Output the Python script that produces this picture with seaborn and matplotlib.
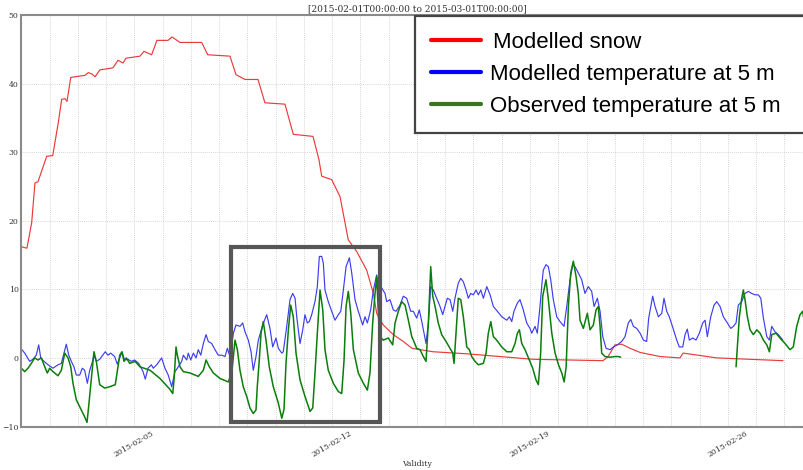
import numpy as np
import pandas as pd
import matplotlib
matplotlib.use("Agg")
import matplotlib.pyplot as plt
import matplotlib.dates as mdates
from matplotlib.patches import Rectangle
from matplotlib.lines import Line2D
import seaborn as sns

START = pd.Timestamp("2015-02-01")
END = pd.Timestamp("2015-03-01")

# Modelled snow depth (hours since START, value)
snow_hours = [0, 4.8, 8.8, 11.6, 14.2, 21.6, 26.7, 31.4,
              34.3, 37.1, 38.8, 42.0, 54.1, 56.9, 60.0, 62.6,
              66.8, 77.9, 82.1, 86.4, 88.9, 100.8, 104.2, 110.7,
              115.2, 124.6, 128.0, 134.8, 153.2, 158.3, 177.2, 182.3,
              190.0, 201.0, 206.9, 223.9, 231.0, 247.7, 252.8, 255.1,
              263.6, 270.7, 277.7, 284.9, 293.3, 299.0, 301.8, 307.4,
              315.9, 324.4, 331.8, 349.6, 378.3, 434.6, 494.0, 498.3,
              504.2, 509.9, 517.0, 525.5, 542.5, 559.4, 562.0, 570.4,
              590.6, 646.9]
snow_depth = [16.2, 16.0, 19.7, 25.5, 25.7, 29.4, 29.5, 34.3,
              37.7, 37.8, 37.4, 40.9, 41.2, 41.6, 41.4, 41.0,
              42.0, 42.3, 43.4, 43.0, 43.7, 44.0, 44.7, 44.2,
              46.3, 46.3, 46.8, 46.0, 46.0, 44.2, 44.0, 41.3,
              40.6, 40.6, 37.2, 37.0, 32.6, 32.3, 28.9, 26.5,
              26.0, 23.5, 17.2, 15.5, 12.8, 9.4, 6.5, 4.8,
              3.4, 2.4, 1.4, 0.9, 0.6, -0.2, -0.4, 0.2,
              1.9, 2.0, 1.4, 0.8, 0.2, 0.0, 0.7, 0.5,
              0.0, -0.4]

# Modelled temperature at 5 m
model_hours = [0, 2.9, 7.1, 9.9, 12.7, 14.8, 16.5, 19.3,
               22.7, 26.9, 31.2, 34.0, 36.3, 38.2, 40.3, 42.5,
               44.7, 46.7, 49.6, 51.8, 53.8, 56.1, 58.1, 60.0,
               61.7, 63.7, 66.6, 71.3, 73.6, 75.9, 79.3, 81.5,
               83.6, 85.5, 87.8, 90.6, 93.4, 96.3, 99.7, 103.4,
               105.3, 107.6, 110.4, 112.1, 115.0, 119.2, 122.0, 124.8,
               127.7, 130.5, 133.3, 136.2, 137.6, 140.5, 141.8, 143.9,
               146.1, 148.4, 150.3, 152.4, 154.6, 156.9, 158.8, 161.7,
               164.5, 167.3, 170.2, 173.0, 175.0, 177.2, 180.1, 182.3,
               185.7, 188.0, 190.0, 192.8, 195.1, 197.0, 199.3, 201.3,
               204.2, 206.1, 208.4, 211.2, 213.5, 216.3, 218.3, 221.2,
               222.5, 225.4, 228.2, 230.5, 232.5, 233.9, 236.7, 239.0,
               240.9, 242.9, 244.6, 246.6, 249.4, 251.4, 253.1, 255.1,
               256.5, 257.9, 260.7, 263.6, 266.4, 269.2, 271.3, 273.5,
               275.8, 278.6, 280.6, 283.4, 286.2, 289.9, 291.9, 293.9,
               296.7, 299.0, 301.8, 303.8, 306.1, 308.9, 310.3, 313.1,
               315.9, 318.2, 321.6, 324.4, 327.3, 330.7, 332.9, 335.8,
               338.0, 340.1, 342.0, 343.7, 345.7, 347.7, 349.9, 352.8,
               355.6, 357.9, 359.8, 361.8, 364.1, 366.4, 368.3, 371.1,
               373.2, 375.4, 377.7, 379.6, 381.7, 383.9, 386.2, 388.1,
               390.2, 392.4, 395.3, 398.1, 400.9, 404.3, 408.0, 412.3,
               414.5, 416.5, 418.4, 421.3, 423.5, 426.3, 429.2, 432.0,
               433.5, 436.3, 438.2, 440.5, 442.2, 443.3, 445.6, 447.6,
               449.6, 451.8, 454.7, 457.5, 460.9, 463.2, 466.0, 468.3,
               470.2, 473.0, 475.9, 478.7, 481.5, 484.4, 486.4, 489.2,
               491.5, 493.8, 496.6, 500.0, 502.8, 506.2, 509.9, 512.7,
               515.5, 517.6, 519.8, 522.7, 525.5, 528.3, 531.1, 532.8,
               536.2, 538.2, 541.0, 543.9, 545.8, 548.1, 550.3, 552.6,
               556.6, 558.8, 561.7, 563.7, 565.6, 567.3, 570.2, 573.0,
               575.8, 578.7, 580.7, 582.6, 585.5, 588.3, 590.6, 593.4,
               596.2, 599.6, 602.5, 604.7, 607.0, 608.9, 611.8, 614.6,
               617.4, 620.3, 623.1, 625.9, 628.0, 630.2, 633.1, 635.3,
               637.3, 640.1, 642.9, 646.7]
model_temp = [1.3, 0.7, -0.5, -0.2, 0.4, 1.9, 0.0, -0.5,
              -1.0, -1.5, -1.0, -0.8, 0.7, 2.0, 0.4, -0.5,
              -1.3, -2.5, -2.5, -1.5, -1.8, -3.7, -1.8, -0.8,
              0.4, -0.5, -0.2, 0.9, 0.4, 0.7, 0.2, -0.9,
              0.0, 0.8, -0.3, -0.2, -0.5, -0.3, -0.8, -2.0,
              -3.1, -1.5, -1.0, -1.5, -1.0, 0.0, -1.5, -2.5,
              -4.2, -2.0, -1.3, -0.5, 0.4, -0.3, 0.7, -0.3,
              0.7, 0.0, 1.2, 0.4, 2.1, 3.4, 2.4, 2.1,
              1.2, 0.4, 0.4, 0.2, 1.4, 0.2, 3.6, 4.8,
              4.6, 5.1, 3.8, 2.6, 0.9, -1.8, 0.2, 2.6,
              4.3, 5.3, 6.3, 4.3, 1.6, 2.9, 1.4, 0.7,
              0.9, 4.6, 8.5, 9.4, 8.7, 6.0, 2.1, 4.1,
              6.3, 5.1, 5.3, 6.3, 8.2, 10.4, 14.8, 14.8,
              13.8, 9.9, 8.2, 6.8, 5.5, 6.3, 6.8, 9.9,
              13.3, 14.6, 12.4, 8.5, 6.8, 4.8, 6.0, 5.1,
              7.0, 9.9, 12.1, 9.4, 10.2, 9.4, 8.2, 8.5,
              7.0, 6.8, 7.7, 9.0, 8.7, 6.8, 6.8, 5.8,
              7.0, 5.3, 3.6, 2.1, 5.1, 10.4, 9.9, 8.7,
              7.5, 6.3, 7.5, 8.7, 8.5, 6.8, 8.7, 10.9,
              11.6, 11.1, 9.9, 8.7, 9.4, 9.2, 9.9, 9.2,
              9.9, 8.7, 10.4, 9.2, 7.5, 6.8, 6.0, 5.5,
              6.0, 5.3, 6.8, 8.0, 8.5, 7.0, 5.1, 4.3,
              3.6, 4.6, 3.6, 7.5, 10.9, 12.8, 13.6, 13.3,
              11.4, 8.5, 6.0, 5.3, 4.6, 7.5, 11.4, 13.6,
              13.3, 12.4, 11.4, 9.4, 10.4, 9.7, 7.5, 8.7,
              6.8, 3.1, 1.4, 1.2, 1.6, 1.9, 2.4, 3.1,
              5.1, 5.6, 4.6, 4.3, 3.6, 2.6, 2.4, 5.8,
              9.0, 7.5, 6.0, 6.5, 8.7, 6.8, 6.0, 4.8,
              2.6, 1.6, 1.6, 3.4, 4.2, 2.6, 2.9, 2.6,
              3.6, 5.1, 5.5, 3.1, 6.0, 7.7, 8.2, 7.5,
              6.0, 5.1, 4.3, 4.6, 5.1, 7.7, 8.2, 9.4,
              9.7, 9.4, 9.2, 9.2, 8.7, 5.8, 3.1, 2.6,
              4.6, 3.8, 3.4, 2.6]

# Observed temperature at 5 m (NaN marks a gap in the record)
obs_hours = [0, 2.9, 5.7, 8.5, 11.4, 14.2, 17.0, 19.9,
             22.1, 24.1, 26.9, 31.2, 34.0, 36.9, 39.7, 42.0,
             43.9, 46.7, 51.0, 53.8, 55.8, 57.2, 59.4, 61.7,
             63.7, 66.6, 70.8, 75.1, 79.8, 82.1, 83.6, 85.5,
             87.2, 89.2, 92.1, 96.6, 100.8, 109.3, 117.8, 122.0,
             126.3, 128.6, 129.7, 131.4, 132.5, 134.8, 137.6, 143.3,
             150.3, 154.6, 156.9, 159.7, 163.1, 168.8, 175.8, 178.7,
             181.5, 183.5, 185.7, 188.5, 191.4, 194.2, 197.0, 199.3,
             200.4, 202.1, 203.6, 205.5, 207.8, 210.6, 214.0, 218.3,
             221.2, 223.1, 224.8, 226.8, 228.8, 231.0, 233.3, 236.7,
             240.9, 245.2, 247.5, 249.4, 251.4, 253.7, 256.0, 257.9,
             260.7, 265.0, 269.2, 272.1, 274.1, 275.8, 277.7, 279.8,
             282.0, 286.2, 290.5, 293.9, 296.1, 298.4, 300.4, 301.8,
             303.5, 304.6, 307.4, 311.7, 315.4, 317.4, 320.2, 323.1,
             325.9, 328.7, 331.6, 332.9, 335.8, 338.6, 341.4, 343.7,
             345.7, 347.7, 349.4, 351.4, 354.1, 357.0, 360.7, 364.1,
             366.4, 367.5, 369.2, 371.1, 373.2, 375.4, 378.3, 380.5,
             382.5, 385.3, 388.1, 392.4, 394.7, 396.6, 398.7, 400.9,
             403.7, 408.0, 412.3, 416.5, 419.3, 421.3, 423.0, 425.0,
             427.8, 431.4, 434.3, 437.1, 439.1, 441.0, 442.8, 445.6,
             447.6, 450.5, 453.3, 456.2, 459.0, 461.0, 462.7, 464.6,
             466.6, 468.8, 471.1, 473.0, 474.5, 477.3, 480.7, 483.0,
             485.8, 488.1, 490.0, 491.5, 492.9, 495.7, 500.0, 504.2,
             507.0, 509.0, 558.0,
             607.0, 608.1, 609.8, 611.8, 613.2, 614.6, 616.6, 618.9,
             621.7, 624.6, 627.4, 630.2, 633.1, 635.3, 637.3, 641.0,
             644.3, 648.6, 652.8, 655.6, 658.5, 661.3, 663.6, 665.6,
             668.2]
obs_temp = [-1.5, -2.0, -1.5, -0.8, 0.0, -0.3, 0.0, -1.3,
            -2.2, -1.5, -2.0, -2.6, -1.8, 0.7, 0.0, -1.3,
            -3.7, -6.1, -7.6, -8.6, -9.4, -7.1, -3.2, 0.9,
            -0.5, -3.9, -4.4, -4.2, -3.9, -1.3, 0.4, 0.9,
            -0.5, 0.0, -0.8, -0.5, -1.3, -1.8, -3.0, -3.8,
            -4.6, -5.2, -3.2, 1.6, 0.4, -1.3, -2.0, -2.2,
            -2.7, -1.8, -0.3, -1.3, -2.2, -3.0, -3.5, -2.2,
            2.6, 1.2, -1.8, -4.2, -5.6, -7.3, -8.1, -7.6,
            -4.2, -0.3, 3.6, 5.3, 2.6, -1.3, -4.2, -6.6,
            -8.8, -7.5, -0.8, 4.1, 7.7, 6.0, 0.7, -3.2,
            -5.6, -7.8, -7.3, -2.2, 3.6, 9.9, 7.0, 1.2,
            -1.8, -3.7, -4.9, -5.2, -0.3, 7.5, 9.7, 6.5,
            1.2, -2.2, -3.7, -4.7, -2.2, 5.1, 9.4, 11.9,
            5.5, 3.1, 2.6, 2.9, 1.9, 5.1, 6.8, 8.2,
            7.7, 5.5, 3.1, 2.6, 1.4, 1.2, 0.2, -0.5,
            5.1, 13.3, 9.0, 7.5, 5.1, 3.4, 2.4, 1.4,
            0.7, -0.8, 3.6, 8.7, 8.5, 6.0, 1.6, 1.2,
            0.2, -0.5, -1.0, -0.8, 0.7, 3.6, 5.3, 3.1,
            2.6, 1.6, 0.9, 0.9, 2.1, 3.6, 4.1, 2.1,
            1.2, -0.3, -1.5, -3.2, -3.9, 0.5, 9.0, 11.4,
            8.5, 3.6, 0.7, -1.0, -2.2, -3.5, -1.3, 7.5,
            12.4, 14.1, 11.9, 9.4, 5.5, 4.3, 6.5, 4.1,
            4.8, 7.0, 7.5, 4.6, 0.7, 0.2, 0.1, 0.2,
            0.2, 0.1, np.nan,
            -1.3, 1.6, 6.0, 8.7, 9.9, 8.5, 6.0, 4.1,
            3.4, 4.1, 3.6, 2.6, 1.9, 0.9, 3.4, 3.6,
            2.9, 2.1, 1.2, 1.6, 4.6, 6.3, 6.8, 4.5,
            3.0]

series_labels = ["Modelled snow",
                 "Modelled temperature at 5 m",
                 "Observed temperature at 5 m"]
y_ticks = [-10, 0, 10, 20, 30, 40, 50]
x_label_days = [5, 12, 19, 26]

# Highlighted warm spell (hours since START, temperature range)
highlight_hours = (178.0, 304.6)
highlight_temp = (-9.3, 16.2)

line_colors = ["#ec3a3a", "#3d3df0", "#0b7d0b"]
key_colors = ["#ff0000", "#0000ff", "#38761d"]


def to_time(hours):
    return START + pd.to_timedelta(np.asarray(hours, dtype=float), unit="h")


snow_df = pd.DataFrame({"time": to_time(snow_hours), "value": snow_depth})
model_df = pd.DataFrame({"time": to_time(model_hours), "value": model_temp})
obs_df = pd.DataFrame({"time": to_time(obs_hours), "value": obs_temp})
obs_df["segment"] = obs_df["value"].isna().cumsum()
obs_df = obs_df.dropna()

sns.set_theme(style="white")
plt.rcParams["font.family"] = ["DejaVu Serif"]

W, H = 804, 470
fig = plt.figure(figsize=(W / 100, H / 100), dpi=100)
ax = fig.add_axes([21.3 / W, 1 - 426.5 / H, (812.6 - 21.3) / W, (426.5 - 15) / H])

sns.lineplot(data=snow_df, x="time", y="value", ax=ax, color=line_colors[0],
             linewidth=0.85, estimator=None, sort=False)
sns.lineplot(data=model_df, x="time", y="value", ax=ax, color=line_colors[1],
             linewidth=0.85, estimator=None, sort=False)
sns.lineplot(data=obs_df, x="time", y="value", units="segment", ax=ax,
             color=line_colors[2], linewidth=1.1, estimator=None, sort=False)

ax.set_xlim(START, END)
ax.set_ylim(y_ticks[0], y_ticks[-1])
ax.set_yticks(y_ticks)
ax.xaxis.set_major_locator(mdates.DayLocator(bymonthday=x_label_days))
ax.xaxis.set_major_formatter(mdates.DateFormatter("%Y-%m-%d"))
ax.xaxis.set_minor_locator(mdates.DayLocator())

grid_kw = dict(color="#c9c9c9", linestyle=(0, (1, 1.5)), linewidth=0.6)
ax.grid(True, which="major", axis="both", **grid_kw)
ax.grid(True, which="minor", axis="x", **grid_kw)

for spine in ax.spines.values():
    spine.set_color("#8a8a8a")
    spine.set_linewidth(1.5)

ax.tick_params(axis="both", which="both", direction="in", length=3,
               color="#8a8a8a", labelsize=5.6, labelcolor="#333333", pad=2)
plt.setp(ax.get_xticklabels(), rotation=30, ha="center")

ax.set_xlabel("Validity", fontsize=5.6, color="#333333", labelpad=1)
ax.set_ylabel("")
ax.set_title("[%s to %s]" % (START.strftime("%Y-%m-%dT%H:%M:%S"),
                             END.strftime("%Y-%m-%dT%H:%M:%S")),
             fontsize=6.5, color="#333333", pad=2.5)

# Box around the warm spell
x0 = mdates.date2num(START + pd.Timedelta(hours=highlight_hours[0]))
x1 = mdates.date2num(START + pd.Timedelta(hours=highlight_hours[1]))
ax.add_patch(Rectangle((x0, highlight_temp[0]), x1 - x0,
                       highlight_temp[1] - highlight_temp[0],
                       fill=False, edgecolor="#565656", linewidth=3.0,
                       zorder=10, clip_on=False))


# Key drawn in figure pixels
def fx(px):
    return px / W


def fy(py):
    return 1 - py / H


fig.add_artist(Rectangle((fx(415), fy(132.5)), fx(830) - fx(415),
                         fy(15.5) - fy(132.5), transform=fig.transFigure,
                         facecolor="white", edgecolor="#444444",
                         linewidth=1.6, zorder=5))
key_rows = [40, 72, 104]
text_x = [493, 490, 490]
for label, color, yc, tx in zip(series_labels, key_colors, key_rows, text_x):
    fig.add_artist(Line2D([fx(431), fx(481)], [fy(yc), fy(yc)],
                          transform=fig.transFigure, color=color,
                          linewidth=3.0, zorder=6))
    fig.text(fx(tx), fy(yc + 7.8), label, fontsize=16, color="black",
             family=["Liberation Sans", "DejaVu Sans"], va="baseline",
             ha="left", zorder=7)

fig.savefig("out.png", dpi=100)
